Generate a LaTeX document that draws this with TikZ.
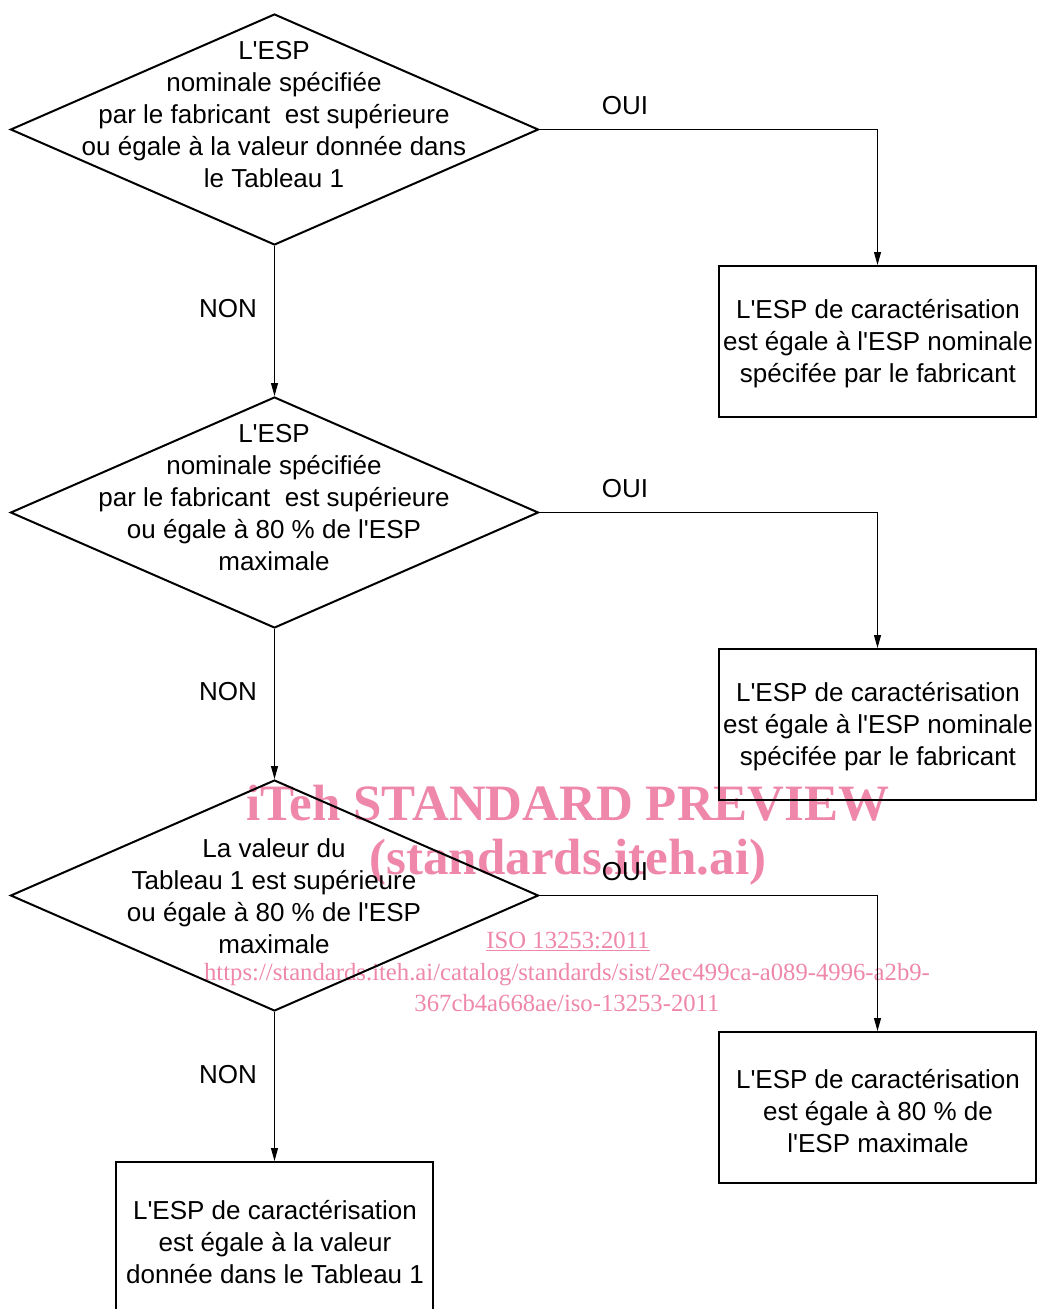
\documentclass[tikz,border=0pt]{standalone}
\usepackage{fontspec}
\setmainfont{Liberation Sans}
\newfontfamily\wmfont{Liberation Serif}
\usetikzlibrary{shapes.geometric,arrows.meta}
\definecolor{wmpink}{RGB}{238,135,170}
\newcommand\ap{\textquotesingle}
\begin{document}
\begin{tikzpicture}[x=1pt,y=-1pt,
  dec/.style={diamond,draw,line width=2pt,minimum width=528pt,minimum height=231pt,inner sep=0pt},
  res/.style={rectangle,draw,line width=2pt,minimum width=317pt,minimum height=151pt,inner sep=0pt},
  txt/.style={align=center,inner sep=0pt,font=\fontsize{26}{32}\selectfont},
  lbl/.style={inner sep=0pt,font=\fontsize{26}{32}\selectfont},
  conn/.style={line width=1pt,-{Triangle[length=13pt,width=7pt]}},
  wmbig/.style={text=wmpink,inner sep=0pt,font=\wmfont\bfseries\fontsize{51}{51}\selectfont},
  wmsmall/.style={text=wmpink,inner sep=0pt,align=center,font=\wmfont\fontsize{24.7}{31}\selectfont}]
\useasboundingbox (0,0) rectangle (1037,1309);
% watermark
\node[wmbig] (w1) at (568,803) {iTeh STANDARD PREVIEW};
\node[wmbig] (w2) at (568,862) {(standards.iteh.ai)};
\node[wmsmall] (w3) at (568,941) {\underline{ISO 13253:2011}};
\node[wmsmall] (w4) at (567,988) {https://standards.iteh.ai/catalog/standards/sist/2ec499ca-a089-4996-a2b9-\\367cb4a668ae/iso-13253-2011};
% decisions
\node[dec] (d1) at (274.5,129.5) {};
\node[dec] (d2) at (274.5,512.5) {};
\node[dec] (d3) at (274.5,895.5) {};
\node[txt] (t1) at (274,115) {L\ap ESP\\nominale spécifiée\\par le fabricant\ \ est supérieure\\ou égale à la valeur donnée dans\\le Tableau 1};
\node[txt] (t2) at (274,498) {L\ap ESP\\nominale spécifiée\\par le fabricant\ \ est supérieure\\ou égale à 80 \% de l\ap ESP\\maximale};
\node[txt] (t3) at (274,896) {La valeur du\\Tableau 1 est supérieure\\ou égale à 80 \% de l\ap ESP\\maximale};
% results
\node[res] (b1) at (877.5,341.5) {};
\node[res] (b2) at (877.5,724.5) {};
\node[res] (b3) at (877.5,1107.5) {};
\node[res] (b4) at (274.5,1237.5) {};
\node[txt] (u1) at (878,344) {L\ap ESP de caractérisation\\est égale à l\ap ESP nominale\\spécifée par le fabricant};
\node[txt] (u2) at (878,727) {L\ap ESP de caractérisation\\est égale à l\ap ESP nominale\\spécifée par le fabricant};
\node[txt] (u3) at (878,1111) {L\ap ESP de caractérisation\\est égale à 80 \% de\\l\ap ESP maximale};
\node[txt] (u4) at (275,1242) {L\ap ESP de caractérisation\\est égale à la valeur\\donnée dans le Tableau 1};
% connectors
\draw[conn] (d1.east) -| (b1.north);
\draw[conn] (d2.east) -| (b2.north);
\draw[conn] (d3.east) -| (b3.north);
\draw[conn] (d1.south) -- (d2.north);
\draw[conn] (d2.south) -- (d3.north);
\draw[conn] (d3.south) -- (b4.north);
% labels
\node[lbl] (o1) at (625,106) {OUI};
\node[lbl] (o2) at (625,489) {OUI};
\node[lbl] (o3) at (625,872) {OUI};
\node[lbl] (n1) at (228,309) {NON};
\node[lbl] (n2) at (228,692) {NON};
\node[lbl] (n3) at (228,1075) {NON};
\end{tikzpicture}
\end{document}
